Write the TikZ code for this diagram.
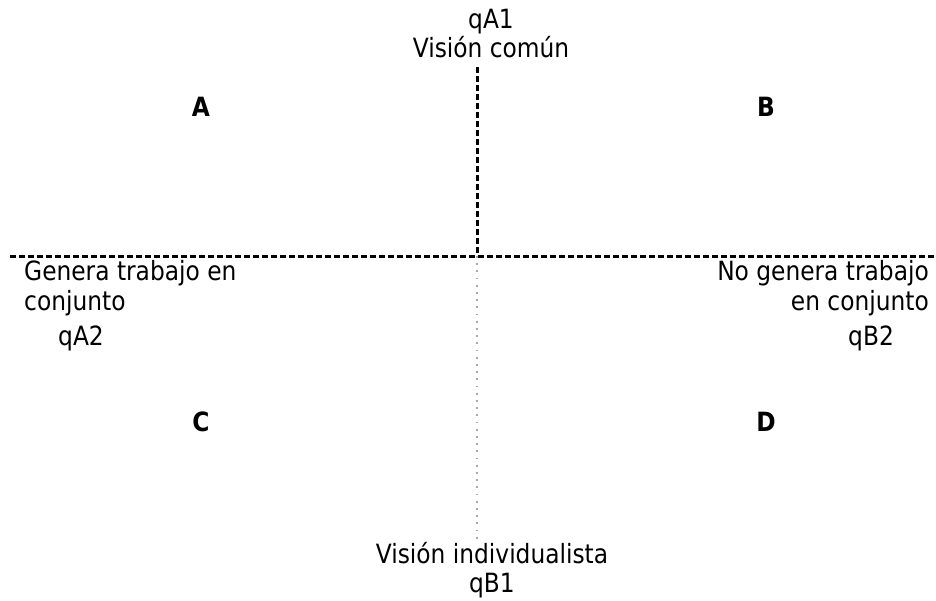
\documentclass[tikz,border=0pt]{standalone}
\usepackage{fontspec}
\setmainfont{DejaVu Sans}[FakeStretch=0.88]
\begin{document}
\begin{tikzpicture}[x=1pt,y=-1pt,
  lbl/.style={inner sep=0pt,font=\fontsize{26.5}{29.5}\selectfont},
  quad/.style={lbl,font=\fontsize{26.5}{29.5}\selectfont\bfseries},
  axisdash/.style={line width=3pt,dash pattern=on 6pt off 3pt},
  axisdot/.style={line width=1.8pt,gray!70,dash pattern=on 1.8pt off 5.4pt}]
\useasboundingbox (0,0) rectangle (936,600);
% axes
\coordinate (top) at (477,67);
\coordinate (mid) at (477,256);
\coordinate (bot) at (477,540);
\coordinate (west) at (10,256);
\coordinate (east) at (936,256);
\draw[axisdash] (top) -- (mid);
\draw[axisdash] (west) -- (east);
\draw[axisdot] (mid) -- (bot);
% axis labels
\node[lbl,anchor=base] (qa1) at (491,28) {qA1};
\node[lbl,anchor=base] (vc) at (491,57) {Visión común};
\node[lbl,anchor=base] (vi) at (492,563) {Visión individualista};
\node[lbl,anchor=base] (qb1) at (492,592) {qB1};
% the base anchor of a two-line node sits on its last line
\node[lbl,anchor=base west,align=left] (gt) at (24,310) {Genera trabajo en\\conjunto};
\node[lbl,anchor=base east,align=right] (ngt) at (929,310) {No genera trabajo\\en conjunto};
\node[lbl,anchor=base] (qa2) at (81,345) {qA2};
\node[lbl,anchor=base] (qb2) at (871,345) {qB2};
% quadrants
\node[quad,anchor=base] (qA) at (201,116) {A};
\node[quad,anchor=base] (qB) at (766,116) {B};
\node[quad,anchor=base] (qC) at (201,431) {C};
\node[quad,anchor=base] (qD) at (766,431) {D};
\end{tikzpicture}
\end{document}
